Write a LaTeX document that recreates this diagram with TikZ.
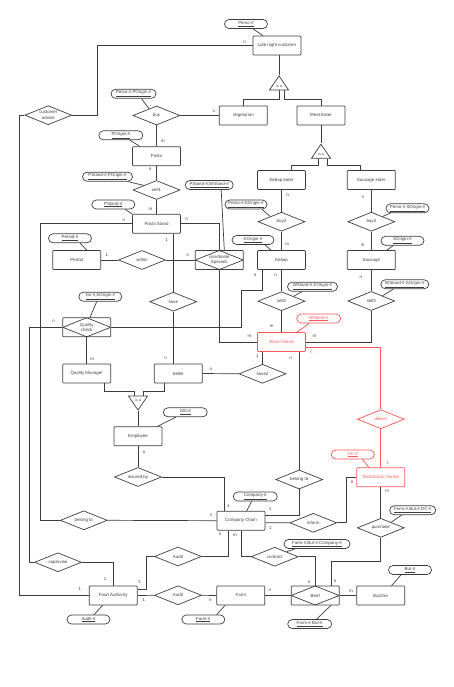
\documentclass[tikz,border=0pt]{standalone}
\usepackage{fontspec}
\setmainfont{Liberation Sans}
\usetikzlibrary{shapes.geometric}
\definecolor{ergray}{RGB}{60,60,60}
\definecolor{wurstred}{RGB}{255,85,85}
\newcommand{\erfont}{\fontsize{4.4}{5.2}\selectfont}

\begin{document}
\begin{tikzpicture}[x=1pt, y=-1pt, ergray, line width=0.7pt,
        entity/.style={draw, rectangle, rounded corners=0.8pt,
                       minimum width=48pt, minimum height=19pt,
                       inner sep=0pt, font=\erfont},
        rel/.style={draw, diamond, aspect=2.5, minimum width=47pt,
                    minimum height=19pt, inner sep=0pt, align=center,
                    font=\erfont},
        assoc/.style={entity, align=center,
                      path picture={\draw (path picture bounding box.west)
                        -- (path picture bounding box.north)
                        -- (path picture bounding box.east)
                        -- (path picture bounding box.south) -- cycle;}},
        key/.style={draw, rectangle, rounded corners=4.5pt,
                    minimum width=43pt, minimum height=9pt,
                    inner sep=0pt, font=\erfont},
        isa/.style={draw, isosceles triangle, isosceles triangle stretches,
                    shape border rotate=90, minimum width=19pt,
                    minimum height=14pt, inner sep=0pt,
                    font=\fontsize{3.6}{4}\selectfont},
        card/.style={font=\erfont, inner sep=0pt},
        hot/.style={wurstred}]
    \useasboundingbox (0,0) rectangle (454,687);

    % entities
    \node[entity] (lnc) at (277,45.5) {Late night customer};
    \node[entity] (veg) at (243.3,115.5) {Vegetarian};
    \node[entity] (meat) at (321,115.5) {Meat Eater};
    \node[entity] (kebeat) at (281.5,180) {Kebap eater};
    \node[entity] (sauseat) at (371.3,180) {Sausage eater};
    \node[entity] (pasta) at (156.5,156.3) {Pasta};
    \node[entity] (pstand) at (156.5,223.7) {Pasta Stand};
    \node[entity] (period) at (76.8,260) {Period};
    \node[entity] (kebap) at (281.5,260) {Kebap};
    \node[entity] (sausage) at (371.3,260) {Sausage};
    \node[entity, hot] (wurst) at (281.5,342) {Wurst Stand};
    \node[entity] (qm) at (86.7,373.5) {Quality Manager};
    \node[entity] (seller) at (178.3,373.5) {Seller};
    \node[entity] (employee) at (138,436.3) {Employee};
    \node[entity, hot] (dc) at (380.8,477.2) {Distribution Centre};
    \node[entity] (chain) at (241,520.7) {Company Chain};
    \node[entity] (fa) at (113.2,595.5) {Food Authority};
    \node[entity] (farm) at (240.8,595.5) {Farm};
    \node[entity] (butcher) at (380.8,595.5) {Butcher};

    \node[assoc] (coord) at (219.3,260) {coordinate\\Specials};
    \node[assoc] (qcheck) at (86.7,327.3) {Quality\\check};
    \node[assoc] (beef) at (315.2,595.5) {Beef};

    % relationships
    \node[rel] (advice) at (48.3,115.2) {customer\\advice};
    \node[rel] (buy) at (156.5,115.5) {buy};
    \node[rel] (sell1) at (156.5,190) {sell1};
    \node[rel] (buy2) at (281.5,221.7) {buy2};
    \node[rel] (buy3) at (371.3,221.7) {buy3};
    \node[rel] (within) at (142,260) {within};
    \node[rel] (sell2) at (281.5,301.2) {sell2};
    \node[rel] (sell3) at (371.3,301) {sell3};
    \node[rel] (have) at (173.3,301.7) {have};
    \node[rel] (have2) at (262.5,373.8) {have2};
    \node[rel, hot] (deliver) at (380.8,419.2) {deliver};
    \node[rel] (insured) at (138,477) {insured by};
    \node[rel] (belong1) at (299.2,479.5) {belong to};
    \node[rel] (belong2) at (83.8,520.3) {belong to};
    \node[rel] (inform) at (313.3,522.8) {inform};
    \node[rel] (purchase) at (380.8,527.8) {purchase};
    \node[rel] (audit1) at (178,556.5) {Audit};
    \node[rel] (contract) at (274.7,556.7) {contract};
    \node[rel] (supervise) at (58,562.3) {supervise};
    \node[rel] (audit2) at (178,595.3) {Audit};

    \node[isa, anchor=apex] (isa1) at (279,75) {is a};
    \node[isa, anchor=apex] (isa2) at (321,143.3) {is a};
    \node[isa, anchor=apex, shape border rotate=270] (isa3) at (138,411) {is a};

    % keys
    \node[key] (klnc) at (246,24) {\underline{Perso-\#}};
    \node[key, minimum width=45pt] (kbuy) at (133.5,93.8) {\underline{Perso-\#,POrigin-\#}};
    \node[key, minimum width=44pt] (kpasta) at (120.8,135.3) {\underline{POrigin-\#}};
    \node[key, minimum width=50pt] (ksell1) at (107.5,176.7) {\underline{PStand-\#,POrigin-\#}};
    \node[key] (kpstand) at (113.3,204.5) {\underline{PStand-\#}};
    \node[key, minimum width=48pt] (kcoord) at (209.2,185) {\underline{PStand-\#,WStand-\#}};
    \node[key, minimum width=42pt] (kbuy2) at (246,204.5) {\underline{Perso-\#,KOrigin-\#}};
    \node[key, minimum width=42pt] (kkebap) at (253,240) {\underline{KOrigin-\#}};
    \node[key] (kbuy3) at (407.5,208.3) {\underline{Perso-\#,SOrigin-\#}};
    \node[key] (ksausage) at (402.5,240.8) {\underline{SOrigin-\#}};
    \node[key] (kperiod) at (70,238.3) {\underline{Period-\#}};
    \node[key, minimum width=50pt] (ksell2) at (312.5,286.7) {\underline{WStand-\#,KOrigin-\#}};
    \node[key, minimum width=48pt] (ksell3) at (404.8,284.3) {\underline{WStand-\#,SOrigin-\#}};
    \node[key] (kqcheck) at (100.3,296.7) {\underline{Ins-\#,KOrigin-\#}};
    \node[key, hot, minimum width=44pt] (kwurst) at (318.7,318.5) {\underline{WStand-\#}};
    \node[key, minimum width=44pt] (kemployee) at (185.3,412.3) {\underline{SSI-\#}};
    \node[key, hot] (kdc) at (352.8,454.5) {\underline{DC-\#}};
    \node[key, minimum width=44pt] (kchain) at (255.3,496.5) {\underline{Company-\#}};
    \node[key, minimum width=46pt] (kpurchase) at (412.7,510.2) {\underline{Farm-\#,But-\#,DC-\#}};
    \node[key, minimum width=66pt] (kcontract) at (317,544) {\underline{Farm-\#,But-\#,Company-\#}};
    \node[key] (kbutcher) at (410,570) {\underline{But-\#}};
    \node[key] (kfa) at (88.5,619.5) {\underline{Audit-\#}};
    \node[key] (kfarm) at (203.3,619.5) {\underline{Farm-\#}};
    \node[key, minimum width=44pt] (kbeef) at (309.7,624) {\underline{Farm-\#,But-\#}};

    % hierarchies
    \draw (lnc.south -| isa1.apex) -- (isa1.apex);
    \draw (isa1.lower side) -- ++(0,8.7) -| (veg.north);
    \draw ([xshift=5pt]isa1.lower side) -- ++(0,8.7) -| (meat.north);
    \draw (meat.south) -- (isa2.apex);
    \draw ([xshift=-3pt]isa2.lower side) -- ++(0,6.7) -| ([xshift=10.2pt]kebeat.north);
    \draw ([xshift=6pt]isa2.lower side) -- ++(0,6.7) -| ([xshift=-11pt]sauseat.north);
    \draw ([xshift=17.3pt]qm.south) -- ++(0,7.7) -| ([xshift=-4pt]isa3.lower side);
    \draw ([xshift=-14.3pt]seller.south) -- ++(0,7.7) -| ([xshift=5pt]isa3.lower side);
    \draw (isa3.apex) -- (employee.north);

    % relationships
    \draw (advice.east) -| (97.7,45.5) -- (lnc.west) node[card, shift={(-8,-3.5)}] {n};
    \draw (buy.east) -- (veg.west) node[card, shift={(-5,-4)}] {n};
    \draw (buy.south) -- (pasta.north) node[card, shift={(6.5,-5)}] {m};
    \draw (pasta.south) node[card, shift={(-6.5,3)}] {n} -- (sell1.north);
    \draw (sell1.south) -- (pstand.north) node[card, shift={(-6,-4.7)}] {m};
    \draw (pstand.west) node[card, shift={(-8.3,-3.7)}] {n} -| (40.7,520.3) -- (belong2.west);
    \draw (belong2.east) -- (chain.west) node[card, shift={(-5.6,-5.7)}] {1};
    \draw (pstand.east) node[card, shift={(5.7,-4.4)}] {n} -| (coord.north);
    \draw ([xshift=16.8pt]pstand.south) node[card, shift={(-6.6,6.7)}] {1} -- (have.north);
    \draw (have.south) -- (have.south |- seller.north) node[card, shift={(-7.6,-5.3)}] {n};
    \draw (period.east) node[card, shift={(5.7,-4.7)}] {1} -- (within.west);
    \draw (within.east) -- (coord.west) node[card, shift={(-7,-4.7)}] {n};
    \draw (coord.south) |- (wurst.west) node[card, shift={(-7.7,-5.3)}] {m};
    \draw (kebeat.south) node[card, shift={(6,5)}] {n} -- (buy2.north);
    \draw (buy2.south) -- (kebap.north) node[card, shift={(5.8,-6.3)}] {m};
    \draw ([xshift=-19pt]kebap.south) node[card, shift={(-7.5,5.6)}] {n}
        -- ++(0,20.5) -| (241,327.3) -- (qcheck.east);
    \draw (kebap.south) node[card, shift={(-5.8,5.6)}] {n} -- (sell2.north);
    \draw (sell2.south) -- (wurst.north) node[card, shift={(-9.8,-5.7)}] {m};
    \draw (sauseat.south) node[card, shift={(-8.5,7)}] {n} -- (buy3.north);
    \draw (buy3.south) -- (sausage.north) node[card, shift={(-8.6,-5.3)}] {m};
    \draw (sausage.south) node[card, shift={(-10.5,7)}] {n} -- (sell3.north);
    \draw (sell3.south) |- (wurst.east) node[card, shift={(8.7,-6)}] {m};
    \draw[hot] ([yshift=-5pt]wurst.east) node[card, shift={(5.4,5.3)}] {n} -| (deliver.north);
    \draw[hot] (deliver.south) -- (dc.north) node[card, shift={(7,-4.4)}] {1};
    \draw (dc.west) node[card, shift={(-4.4,5.5)}] {n} -| (346.7,522.8) -- (inform.east);
    \draw (dc.south) node[card, shift={(6.5,4.3)}] {m} -- (purchase.north);
    \draw (purchase.south) -- ++(0,23.5) -| ([xshift=16.5pt]beef.north) node[card, shift={(3.5,-4)}] {n};
    \draw (contract.east) -| (beef.north) node[card, shift={(-6,-3.5)}] {n};
    \draw ([yshift=-2pt]chain.east) node[card, shift={(5,5)}] {1} -- (inform.west);
    \draw (belong1.south) |- ([yshift=5.7pt]chain.east) node[card, shift={(5,-5.7)}] {1};
    \draw ([xshift=17.7pt]wurst.south) node[card, shift={(-8.7,6.6)}] {n} -- (belong1.north);
    \draw ([xshift=-19pt]wurst.south) node[card, shift={(-5.2,4.3)}] {1} -- (have2.north);
    \draw (have2.west) -- (seller.east) node[card, shift={(8.2,-4.5)}] {n};
    \draw (qcheck.south) -- (qm.north) node[card, shift={(5.6,-4.7)}] {m};
    \draw (qcheck.west) node[card, shift={(-8.7,-6)}] {n} -| (29,562.3) -- (supervise.west);
    \draw (supervise.east) -| (fa.north) node[card, shift={(-8,-6.3)}] {1};
    \draw (advice.west) -| (19,595.5) -- (fa.west) node[card, shift={(-9,-6.5)}] {1};
    \draw (employee.south) node[card, shift={(6,5.7)}] {n} -- (insured.north);
    \draw (insured.east) -| ([xshift=-17pt]chain.north) node[card, shift={(4.3,-5.3)}] {1};
    \draw ([xshift=-12.7pt]chain.south) node[card, shift={(-8.3,4)}] {n} |- (audit1.east);
    \draw (audit1.west) -| (146,589.3) -- ([yshift=6.2pt]fa.east) node[card, shift={(1.7,-7.6)}] {1};
    \draw (chain.south) node[card, shift={(-6,4.7)}] {m} |- (contract.west);
    \draw (fa.east) node[card, shift={(6.4,4.8)}] {1} -- (audit2.west);
    \draw (audit2.east) -- (farm.west) node[card, shift={(-6,4.5)}] {n};
    \draw (farm.east) node[card, shift={(4.7,-5.2)}] {n} -- (beef.west);
    \draw (beef.east) -- (butcher.west) node[card, shift={(-5.4,-4.5)}] {m};

    % keys to their owners
    \draw ([xshift=7pt]klnc.south) -- ([xshift=-14pt]lnc.north);
    \draw ([xshift=8pt]kbuy.south) -- (buy.138);
    \draw ([xshift=9pt]kpasta.south) -- ([xshift=-16.5pt]pasta.north);
    \draw ([xshift=20pt]ksell1.south) -- (sell1.160);
    \draw ([xshift=11.7pt]kpstand.south) -- (pstand.north west);
    \draw ([xshift=12pt]kcoord.south) -- ([xshift=5pt]coord.north);
    \draw ([xshift=10pt]kperiod.south) -- ([xshift=10pt]period.north);
    \draw ([xshift=16pt]kbuy2.south) -- (buy2.155);
    \draw ([xshift=12pt]kkebap.south) -- ([xshift=-10.5pt]kebap.north);
    \draw ([xshift=-17pt]kbuy3.south) -- (buy3.25);
    \draw ([xshift=-9.2pt]ksausage.south) -- ([xshift=15.4pt]sausage.north);
    \draw ([xshift=-10.5pt]ksell2.south) -- (sell2.22);
    \draw ([xshift=-11.5pt]ksell3.south) -- (sell3.25);
    \draw ([xshift=-3.6pt]kqcheck.south) -- ([xshift=3.3pt]qcheck.north);
    \draw[hot] ([xshift=-9.4pt]kwurst.south) -- ([xshift=15.8pt]wurst.north);
    \draw ([xshift=-9.6pt]kemployee.south) -- ([xshift=19.3pt]employee.north);
    \draw[hot] ([xshift=9.5pt]kdc.south) -- ([xshift=-11.8pt]dc.north);
    \draw ([xshift=-3.6pt]kchain.south) -- ([xshift=5.7pt]chain.north);
    \draw ([xshift=-11pt]kpurchase.south) -- (purchase.28);
    \draw ([xshift=-22pt]kcontract.south) -- (contract.north east);
    \draw ([xshift=-9pt]kbutcher.south) -- ([xshift=10.8pt]butcher.north);
    \draw ([xshift=7pt]kbeef.north) -- ([xshift=15.8pt]beef.south);
    \draw ([xshift=5.5pt]kfa.north) -- ([xshift=-10.5pt]fa.south);
    \draw ([xshift=13.4pt]kfarm.north) -- ([xshift=-15.8pt]farm.south);
\end{tikzpicture}
\end{document}
